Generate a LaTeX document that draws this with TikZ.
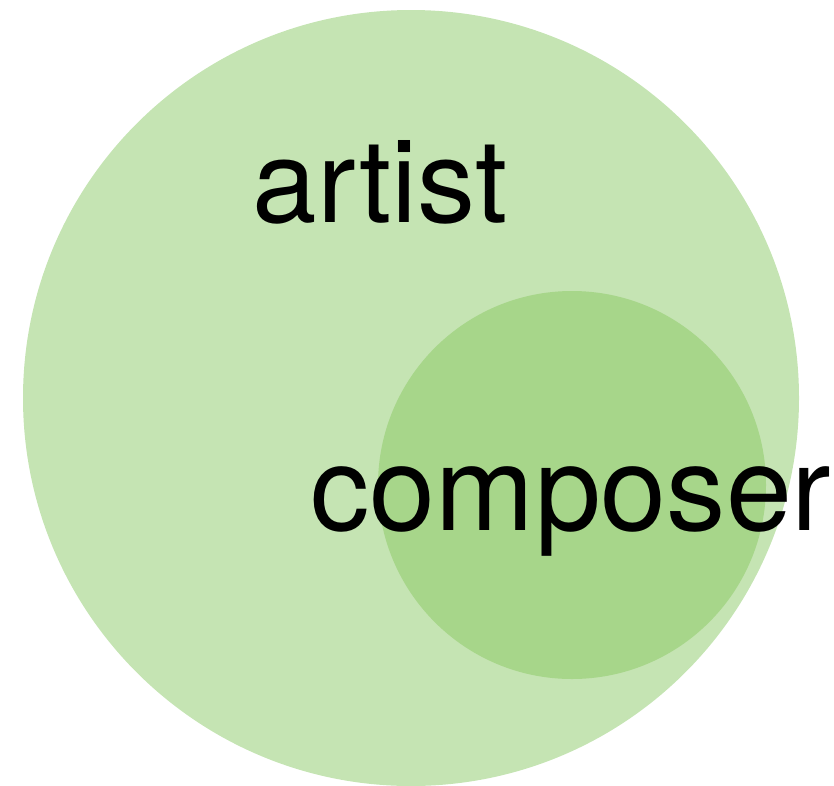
\documentclass[tikz,border=0pt]{standalone}
\usepackage{fontspec}
\setmainfont{TeX Gyre Heros}
\definecolor{outergreen}{HTML}{C5E4B3}
\definecolor{innergreen}{HTML}{A7D68A}
\begin{document}
\begin{tikzpicture}[x=1pt,y=-1pt,
  lbl/.style={font=\fontsize{116}{116}\selectfont, anchor=base, inner sep=0pt, text=black}]
\useasboundingbox (0,0) rectangle (834,785);
\fill[outergreen] (411,398) circle[radius=388];
\fill[innergreen] (572,485) circle[radius=194];
\node[lbl] (artist) at (380,222) {artist};
\node[lbl, font=\fontsize{118.5}{118.5}\selectfont] (composer) at (571,530) {composer};
\end{tikzpicture}
\end{document}
